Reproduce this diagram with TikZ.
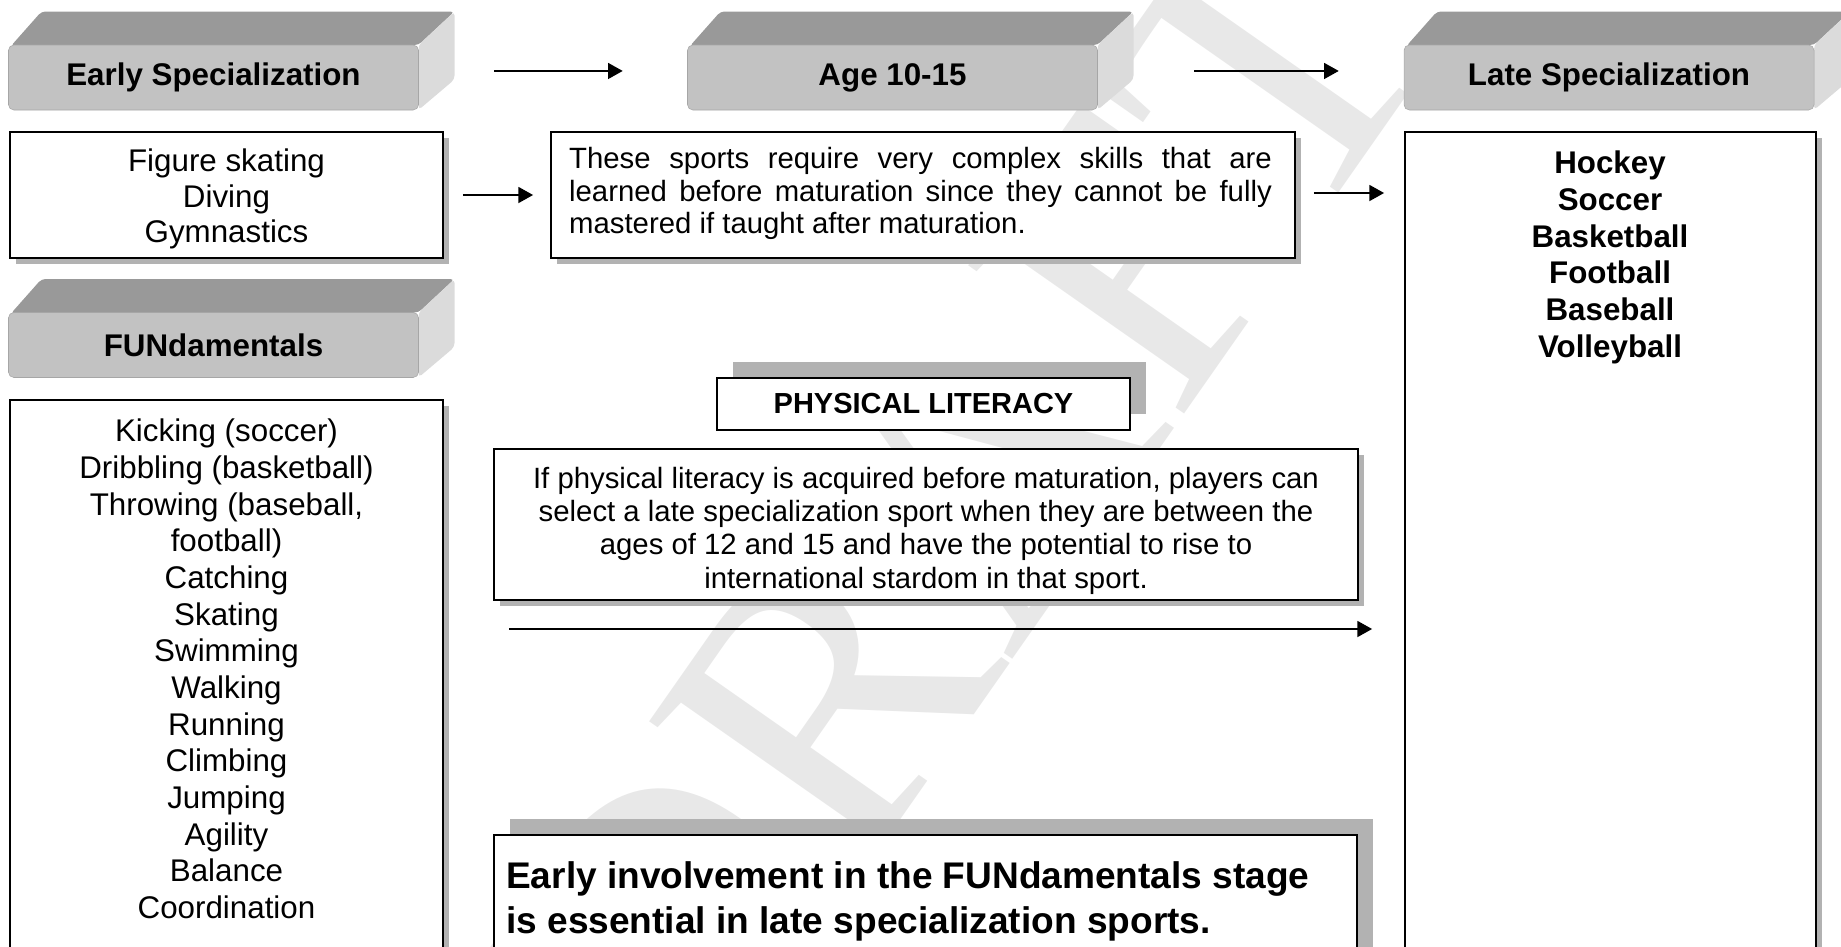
\documentclass[tikz,border=0pt]{standalone}
\usepackage{fontspec}
\setmainfont{Liberation Sans}
\newfontfamily\wmfont{Liberation Serif}
\usetikzlibrary{arrows.meta,shadows}

\begin{document}
\begin{tikzpicture}[x=0.75pt,y=-0.75pt,
    barfront/.style={draw=black!35, fill=black!24, rounded corners=4pt, minimum width=307.5pt,
      minimum height=48.75pt, inner sep=0pt, font=\bfseries\fontsize{23.5}{27.5}\selectfont},
    bartop/.style={fill=black!40, rounded corners=3pt},
    barside/.style={fill=black!14, rounded corners=3pt},
    card/.style={draw, line width=1.4pt, fill=white, inner sep=0pt,
      general shadow={fill=black!30, shadow xshift=4.5pt, shadow yshift=-4.5pt}},
    cardup/.style={draw, line width=1.4pt, fill=white, inner sep=0pt,
      general shadow={fill=black!30, shadow xshift=12pt, shadow yshift=12pt}},
    body/.style={font=\fontsize{23.5}{27.5}\selectfont, align=center, inner sep=0pt},
    arr/.style={line width=1.1pt, -{Triangle[length=11pt,width=12pt]}}]

\useasboundingbox (0,0) rectangle (1841,946);
\clip (0,0) rectangle (1841,946);

% watermark
\node[rotate=55, text=black!9, font=\wmfont\fontsize{300}{300}\selectfont] (wm) at (960,505) {DRAFT};

% header bars
\foreach \nm/\cx/\cy/\txt in {early/213.5/77.5/Early Specialization, age/892.5/77.5/Age 10-15,
    late/1609/77.5/Late Specialization, fun/213.5/345/FUNdamentals}{
  \fill[bartop] (\cx-203,\cy-31) -- (\cx-172,\cy-66) -- (\cx+241,\cy-66) -- (\cx+205,\cy-32.5) -- cycle;
  \fill[barside] (\cx+205,\cy-32.5) -- (\cx+241,\cy-66) -- (\cx+241,\cy+2) -- (\cx+205,\cy+32.5) -- cycle;
  \node[barfront] (\nm) at (\cx,\cy) {\txt};
}

% boxes
\node[card, minimum width=324.75pt, minimum height=94.5pt] (figbox) at (226.5,195) {};
\node[card, minimum width=558pt, minimum height=94.5pt] (thesebox) at (923,195) {};
\node[card, minimum width=308.25pt, minimum height=636pt] (latebox) at (1610.5,556) {};
\node[card, minimum width=325pt, minimum height=435pt] (fundbox) at (226.25,690) {};
\node[cardup, minimum width=309.75pt, minimum height=39pt,
  font=\bfseries\fontsize{21.75}{25}\selectfont] (plbox) at (923.5,404) {PHYSICAL LITERACY};
\node[card, minimum width=648pt, minimum height=113.25pt] (plparbox) at (926,524.5) {};
\node[cardup, minimum width=647.25pt, minimum height=108.75pt] (invbox) at (925.5,907.5) {};

% texts
\node[body, anchor=north, font=\fontsize{23.5}{26.5}\selectfont] (figtxt) at (226.5,149) {Figure skating\\Diving\\Gymnastics};
\node[body, anchor=north, font=\fontsize{22}{24.5}\selectfont, text width=527pt, align=justify] (thesetxt) at (920.5,147)
  {These sports require very complex skills that are\linebreak learned before maturation since they cannot be fully\linebreak mastered if taught after maturation.};
\node[body, anchor=north, font=\bfseries\fontsize{23.5}{27.6}\selectfont] (latetxt) at (1610,150.5)
  {Hockey\\Soccer\\Basketball\\Football\\Baseball\\Volleyball};
\node[body, anchor=north] (fundtxt) at (226.5,419)
  {Kicking (soccer)\\Dribbling (basketball)\\Throwing (baseball,\\football)\\Catching\\Skating\\Swimming\\Walking\\Running\\Climbing\\Jumping\\Agility\\Balance\\Coordination};
\node[body, anchor=north, font=\fontsize{22}{25}\selectfont] (pltxt) at (926,466.5)
  {If physical literacy is acquired before maturation, players can\\select a late specialization sport when they are between the\\ages of 12 and 15 and have the potential to rise to\\international stardom in that sport.};
\node[anchor=north west, inner sep=0pt, align=left, font=\bfseries\fontsize{27.8}{33.75}\selectfont] (invtxt) at (506,861.5)
  {Early involvement in the FUNdamentals stage\\is essential in late specialization sports.};

% arrows
\draw[arr, shorten <=56.6pt, shorten >=48.4pt] ([yshift=4.9pt]early.east) -- ([yshift=4.9pt]age.west);
\draw[arr, shorten <=72.4pt, shorten >=48.75pt] ([yshift=4.9pt]age.east) -- ([yshift=4.9pt]late.west);
\draw[arr, shorten <=14.25pt, shorten >=12.75pt] (figbox.east) -- (thesebox.west);
\draw[arr, shorten <=13.5pt, shorten >=15pt] ([yshift=1.5pt]thesebox.east) -- ([yshift=1.5pt]thesebox.east -| latebox.west);
\coordinate (longstart) at (509,629);
\draw[arr, shorten >=24pt] (longstart) -- (longstart -| latebox.west);

\end{tikzpicture}
\end{document}
